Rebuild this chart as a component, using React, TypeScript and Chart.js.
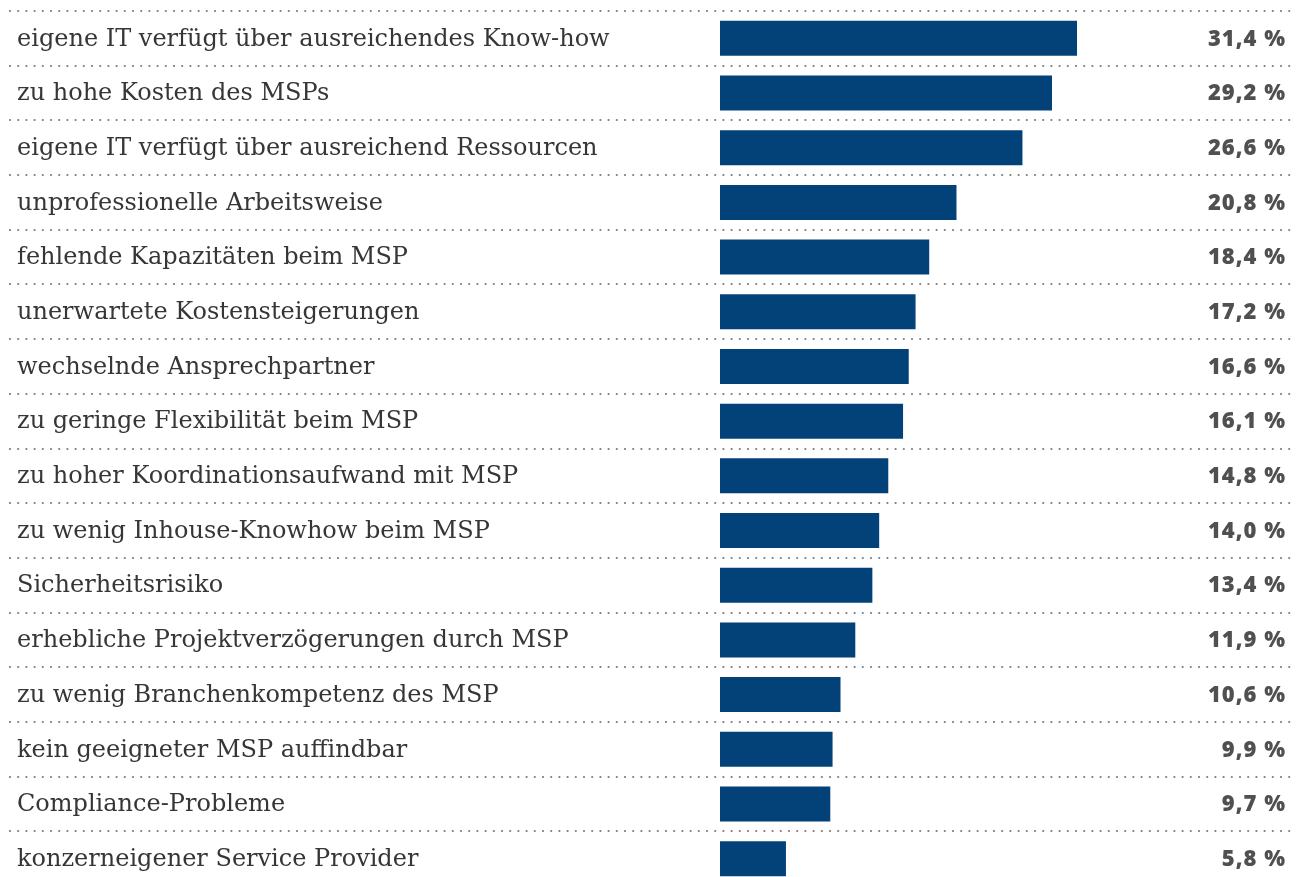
import React, { useEffect, useRef } from "react";
import { Chart, registerables } from "chart.js";

Chart.register(...registerables);

const categories: string[] = [
  "eigene IT verfügt über ausreichendes Know-how",
  "zu hohe Kosten des MSPs",
  "eigene IT verfügt über ausreichend Ressourcen",
  "unprofessionelle Arbeitsweise",
  "fehlende Kapazitäten beim MSP",
  "unerwartete Kostensteigerungen",
  "wechselnde Ansprechpartner",
  "zu geringe Flexibilität beim MSP",
  "zu hoher Koordinationsaufwand mit MSP",
  "zu wenig Inhouse-Knowhow beim MSP",
  "Sicherheitsrisiko",
  "erhebliche Projektverzögerungen durch MSP",
  "zu wenig Branchenkompetenz des MSP",
  "kein geeigneter MSP auffindbar",
  "Compliance-Probleme",
  "konzerneigener Service Provider",
];

const values: number[] = [
  31.4, 29.2, 26.6, 20.8, 18.4, 17.2, 16.6, 16.1, 14.8, 14.0, 13.4, 11.9, 10.6, 9.9, 9.7, 5.8,
];

const valueLabels: string[] = values.map((v) => v.toFixed(1).replace(".", ",") + " %");

const BAR_COLOR = "#034278";

const overlayPlugin = {
  id: "overlay",
  afterDatasetsDraw(chart: any) {
    const ctx = chart.ctx as CanvasRenderingContext2D;
    const y = chart.scales.y;
    const n = categories.length;
    const step = n > 1 ? y.getPixelForValue(1) - y.getPixelForValue(0) : 50;
    ctx.save();
    // dotted separators
    ctx.fillStyle = "#7a7a7a";
    for (let i = 0; i < n; i++) {
      const yy = Math.round(y.getPixelForValue(i) - step / 2);
      for (let x = 10; x <= 1295; x += 8.2) {
        ctx.beginPath();
        ctx.arc(x, yy, 1.1, 0, Math.PI * 2);
        ctx.fill();
      }
    }
    // category labels
    ctx.fillStyle = "#363636";
    ctx.font = '24px "DejaVu Serif"';
    ctx.textAlign = "left";
    ctx.textBaseline = "middle";
    categories.forEach((c, i) => {
      ctx.fillText(c, 17, y.getPixelForValue(i) + 1);
    });
    // value labels
    ctx.fillStyle = "#505050";
    ctx.font = '800 22px "Open Sans"';
    (ctx as any).letterSpacing = "1px";
    ctx.textAlign = "right";
    valueLabels.forEach((t, i) => {
      ctx.fillText(t, 1286, y.getPixelForValue(i) + 1);
    });
    ctx.restore();
  },
};

export default function App() {
  const ref = useRef<HTMLCanvasElement | null>(null);

  useEffect(() => {
    document.body.style.margin = "0";
    const canvas = ref.current;
    if (!canvas) return;
    const chart = new Chart(canvas, {
      type: "bar",
      data: {
        labels: categories,
        datasets: [
          {
            data: values,
            backgroundColor: BAR_COLOR,
            borderWidth: 0,
            barPercentage: 0.64,
            categoryPercentage: 1,
          },
        ],
      },
      options: {
        indexAxis: "y",
        responsive: false,
        animation: false,
        maintainAspectRatio: false,
        layout: { padding: { left: 720, right: 125.2, top: 11, bottom: 4 } },
        plugins: {
          legend: { display: false },
          tooltip: { enabled: false },
        },
        scales: {
          x: { display: false, min: 0, max: 40 },
          y: { display: false, offset: true },
        },
      },
      plugins: [overlayPlugin],
    });
    return () => chart.destroy();
  }, []);

  return (
    <div style={{ width: 1300, height: 877, overflow: "hidden", background: "#fff" }}>
      <canvas ref={ref} width={1300} height={890} style={{ display: "block" }} />
    </div>
  );
}
